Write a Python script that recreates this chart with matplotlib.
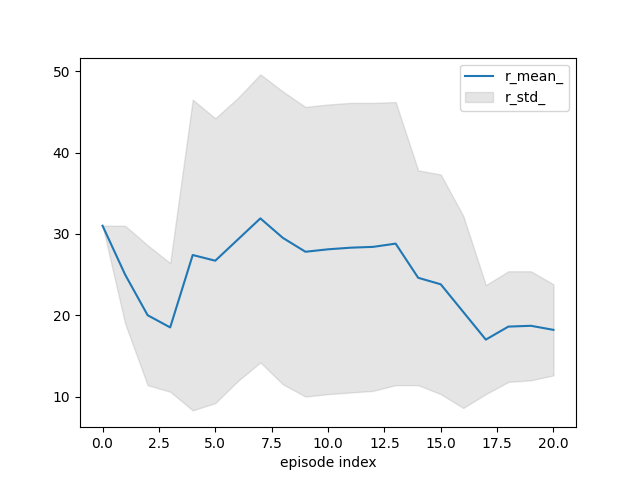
import numpy as np
import matplotlib
matplotlib.use('Agg')
import matplotlib.pyplot as plt

# per-episode reward stats
episodes = np.arange(21)
r_mean = np.array([31.0, 25.0, 20.0, 18.5, 27.4, 26.7, 29.3, 31.9, 29.5, 27.8, 28.1,
                   28.3, 28.4, 28.8, 24.6, 23.8, 20.4, 17.0, 18.6, 18.7, 18.2])
r_std = np.array([0.0, 6.0, 8.6, 7.9, 19.1, 17.5, 17.4, 17.7, 18.0, 17.8, 17.8,
                  17.8, 17.7, 17.4, 13.2, 13.5, 11.8, 6.7, 6.8, 6.7, 5.6])

fig, ax = plt.subplots(figsize=(6.4, 4.8), dpi=100)
ax.plot(episodes, r_mean, label='r_mean_')
ax.fill_between(episodes, r_mean - r_std, r_mean + r_std, color='gray', alpha=0.2, label='r_std_')
ax.set_xlabel('episode index')
ax.legend()
fig.savefig('out.png')
